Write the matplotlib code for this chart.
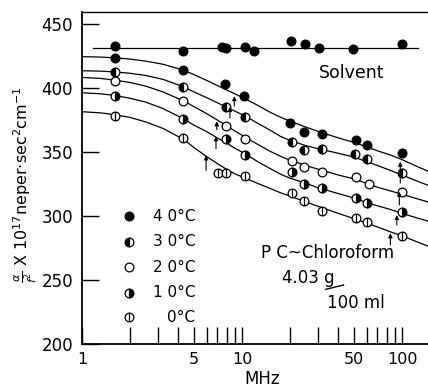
import matplotlib
matplotlib.use("Agg")
import matplotlib.pyplot as plt
from matplotlib.path import Path
from matplotlib.ticker import FixedLocator, NullFormatter

# =========================
# measured points (MHz, alpha/f^2 x 1e17)
# =========================
FREQ_40 = [1.61, 4.26, 7.83, 10.3, 19.95, 24.5, 31.5, 51.6, 60.7, 99.5]
VAL_40 = [423.2, 414.0, 402.9, 393.8, 372.9, 365.6, 364.0, 359.4, 355.5, 349.4]

FREQ_30 = [1.61, 4.26, 7.9, 10.45, 20.4, 24.5, 31.5, 51.0, 60.7, 100.0]
VAL_30 = [412.7, 400.8, 385.4, 377.6, 357.6, 351.6, 352.1, 348.7, 344.3, 333.3]

FREQ_20 = [1.61, 4.26, 7.9, 10.45, 20.4, 24.5, 31.5, 51.6, 62.0, 100.0]
VAL_20 = [405.7, 389.6, 370.6, 359.9, 342.7, 338.1, 334.4, 330.5, 325.2, 318.8]

FREQ_10 = [1.61, 4.26, 7.9, 10.45, 20.4, 24.5, 31.5, 51.6, 60.7, 100.0]
VAL_10 = [393.8, 375.8, 360.2, 347.3, 334.6, 324.8, 321.6, 314.2, 309.9, 303.4]

FREQ_0 = [1.61, 4.26, 7.1, 7.9, 10.45, 20.4, 24.5, 31.5, 51.6, 60.7, 100.0]
VAL_0 = [378.0, 360.7, 333.3, 333.3, 331.2, 317.7, 311.5, 304.0, 298.2, 295.3, 284.1]

FREQ_SOLV = [1.61, 4.27, 7.5, 7.9, 10.4, 11.9, 20.2, 24.6, 30.3, 49.5, 100.4]
VAL_SOLV = [432.8, 428.9, 432.3, 431.5, 432.3, 429.2, 437.0, 434.1, 431.5, 430.2, 434.1]

# fitted curves
CURVE_F = [1, 1.3, 1.6, 2, 2.5, 3.2, 4.3, 5, 6, 7, 8, 9, 10.5, 12.5, 15,
           17.5, 20, 25, 30, 40, 50, 60, 70, 85, 100, 120, 145]
CURVE_40 = [424.5, 424.2, 423.6, 422.6, 421.0, 418.6, 414.0, 410.5, 406.0,
            402.0, 398.5, 395.5, 391.5, 386.5, 381.0, 377.0, 374.0, 369.5,
            366.0, 361.0, 357.5, 354.0, 351.0, 347.5, 344.0, 339.5, 335.0]
CURVE_30 = [413.5, 413.2, 412.6, 411.5, 409.8, 406.8, 401.0, 397.0, 392.5,
            388.5, 385.0, 382.0, 378.0, 372.5, 367.0, 362.0, 359.0, 355.0,
            352.5, 349.0, 346.0, 342.5, 339.5, 335.5, 332.0, 328.0, 324.0]
CURVE_20 = [408.3, 407.5, 406.2, 404.3, 401.5, 397.0, 390.0, 385.5, 380.0,
            375.0, 370.5, 366.5, 361.5, 356.0, 350.5, 346.5, 343.5, 339.5,
            336.5, 332.0, 329.0, 325.5, 322.5, 319.5, 317.0, 314.0, 311.0]
CURVE_10 = [396.3, 395.5, 394.2, 392.0, 389.0, 384.0, 376.0, 371.0, 366.0,
            361.0, 357.0, 353.0, 348.5, 342.5, 337.0, 332.5, 329.5, 325.5,
            322.0, 317.5, 314.0, 310.5, 308.0, 305.0, 302.0, 299.0, 296.0]
CURVE_0 = [381.5, 380.6, 379.2, 377.0, 373.5, 368.5, 360.0, 353.5, 346.5,
           341.0, 336.5, 333.0, 329.5, 325.5, 321.5, 318.0, 315.5, 311.0,
           307.5, 302.0, 298.0, 294.5, 291.5, 287.5, 284.5, 280.5, 276.5]

SOLV_LINE_F = [1.17, 126]
SOLV_LINE_V = [431.0, 431.0]

# little arrows marking relaxation frequencies (f, tail, head)
ARROW_F = [8.94, 8.4, 6.95, 6.87, 5.96, 97.3, 96.0, 92.6, 84.4]
ARROW_TAIL = [385.9, 376.6, 367.4, 352.6, 335.7, 325.8, 308.6, 293.0, 277.3]
ARROW_HEAD = [393.7, 385.2, 374.0, 362.3, 347.4, 342.4, 319.0, 300.8, 286.5]

LABELS = ["4 0°C", "3 0°C", "2 0°C", "1 0°C", "0°C"]

X_TICKS = [1, 5, 10, 50, 100]
X_TICK_LABELS = ["1", "5", "10", "50", "100"]
X_MINOR = [2, 3, 4, 6, 7, 8, 9, 20, 30, 40, 60, 70, 80, 90]
Y_TICKS = [200, 250, 300, 350, 400, 450]

# circle with a vertical bar (0°C symbol)
PHI = Path.make_compound_path(
    Path.unit_circle(),
    Path([[0, -1], [0, 1]], [Path.MOVETO, Path.LINETO]),
)

MS = 6.3
MEW = 0.9
STYLES = [
    dict(marker="o", mfc="black", mec="black"),
    dict(marker="o", fillstyle="left", mfc="black", markerfacecoloralt="white", mec="black"),
    dict(marker="o", mfc="white", mec="black"),
    dict(marker="o", fillstyle="right", mfc="black", markerfacecoloralt="white", mec="black"),
    dict(marker=PHI, mfc="white", mec="black"),
]


def main():
    fig = plt.figure(figsize=(4.28, 3.87), dpi=100)
    ax = fig.add_axes([82 / 428, 1 - 344 / 387, 346 / 428, 332 / 387])

    ax.set_xscale("log")
    ax.set_xlim(1, 145)
    ax.set_ylim(200, 459.4)

    # solvent
    ax.plot(SOLV_LINE_F, SOLV_LINE_V, color="black", lw=0.9)
    ax.plot(FREQ_SOLV, VAL_SOLV, ls="none", marker="o", ms=MS, mfc="black",
            mec="black", mew=MEW)

    curves = [CURVE_40, CURVE_30, CURVE_20, CURVE_10, CURVE_0]
    freqs = [FREQ_40, FREQ_30, FREQ_20, FREQ_10, FREQ_0]
    vals = [VAL_40, VAL_30, VAL_20, VAL_10, VAL_0]

    for cv in curves:
        ax.plot(CURVE_F, cv, color="black", lw=0.9, zorder=2)

    for f, v, st in zip(freqs, vals, STYLES):
        ax.plot(f, v, ls="none", ms=MS, mew=MEW, zorder=3, **st)

    for f, t, h in zip(ARROW_F, ARROW_TAIL, ARROW_HEAD):
        ax.annotate("", xy=(f, h), xytext=(f, t),
                    arrowprops=dict(arrowstyle="-|>", color="black", lw=0.8,
                                    mutation_scale=6, shrinkA=0, shrinkB=0))

    # legend drawn by hand (marker left, text right aligned)
    rows = [0.3855, 0.308, 0.231, 0.155, 0.080]
    for y, st, lab in zip(rows, STYLES, LABELS):
        ax.plot([0.137], [y], transform=ax.transAxes, ls="none", ms=MS,
                mew=MEW, clip_on=False, **st)
        ax.text(0.327, y, lab, transform=ax.transAxes, ha="right",
                va="center", fontsize=11)

    ax.text(48.6, 411.7, "Solvent", ha="center", va="center", fontsize=12.5)
    ax.text(13.1, 271.3, "P C~Chloroform", ha="left", va="center", fontsize=12)
    ax.text(17.8, 251.3, "4.03 g", ha="left", va="center", fontsize=12)
    ax.plot([33.3, 43.0], [242.7, 246.1], color="black", lw=1.0)
    ax.text(34.0, 232.3, "100 ml", ha="left", va="center", fontsize=12)

    # axes cosmetics
    ax.spines["right"].set_visible(False)
    ax.spines["left"].set_linewidth(1.3)
    ax.spines["bottom"].set_linewidth(1.3)
    ax.spines["top"].set_linewidth(1.0)

    ax.xaxis.set_major_locator(FixedLocator(X_TICKS))
    ax.set_xticklabels(X_TICK_LABELS)
    ax.xaxis.set_minor_locator(FixedLocator(X_MINOR))
    ax.xaxis.set_minor_formatter(NullFormatter())
    ax.set_yticks(Y_TICKS)

    ax.tick_params(which="both", direction="in", length=12, width=1.0,
                   top=False, right=False)
    ax.tick_params(axis="x", labelsize=11.5, pad=6)
    ax.tick_params(axis="y", labelsize=12, pad=6.5)

    ax.set_xlabel("MHz", fontsize=12)
    ax.xaxis.set_label_coords(0.52, -0.078)
    ax.set_ylabel(r"$\frac{\alpha}{f^2}$ X 10$^{17}$neper$\cdot$sec$^2$cm$^{-1}$",
                  fontsize=11.5)
    ax.yaxis.set_label_coords(-0.125, 0.48)

    fig.savefig("out.png", dpi=100)


if __name__ == "__main__":
    main()
